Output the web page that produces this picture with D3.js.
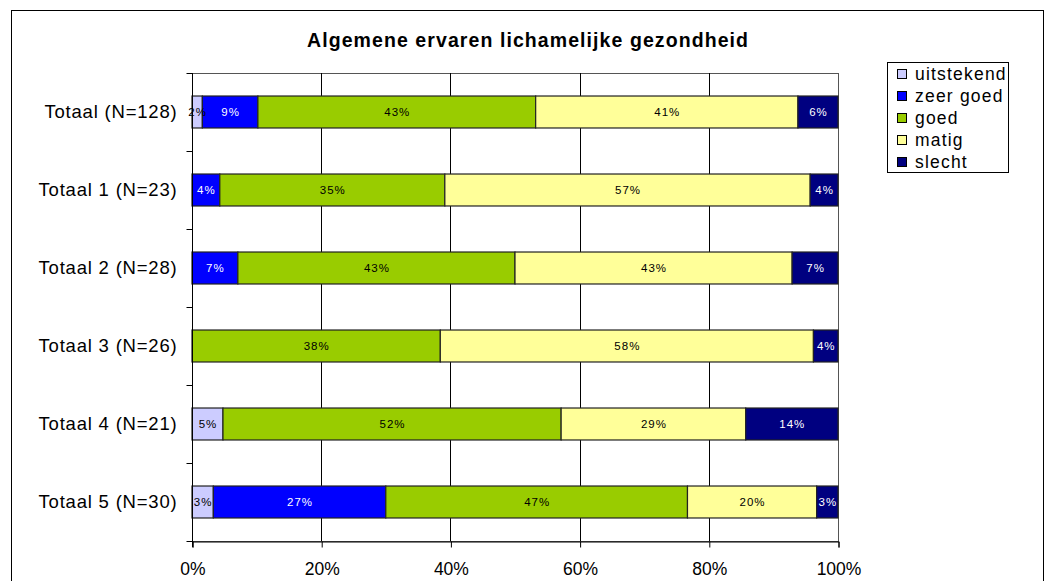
<!DOCTYPE html>
<html>
<head>
<meta charset="utf-8">
<script src="https://cdn.jsdelivr.net/npm/d3@7"></script>
<style>
  body { margin: 0; background: #fff; }
  svg { display: block; font-family: "Liberation Sans", Arial, sans-serif; }
</style>
</head>
<body>
<div class="chart"></div>
<script>
const title = "Algemene ervaren lichamelijke gezondheid";
const categories = ["Totaal (N=128)", "Totaal 1 (N=23)", "Totaal 2 (N=28)", "Totaal 3 (N=26)", "Totaal 4 (N=21)", "Totaal 5 (N=30)"];
const seriesNames = ["uitstekend", "zeer goed", "goed", "matig", "slecht"];
const seriesColors = ["#CCCCFF", "#0000FF", "#99CC00", "#FFFF99", "#000080"];
const labelColors = ["#000", "#fff", "#000", "#000", "#fff"];
// percentages per category, in the order of seriesNames
const uitstekend = [1.6, 0, 0, 0, 4.8, 3.3];
const zeerGoed = [8.6, 4.3, 7.1, 0, 0, 26.7];
const goed = [43.0, 34.8, 42.9, 38.4, 52.4, 46.7];
const matig = [40.6, 56.5, 42.9, 57.7, 28.6, 20.0];
const slecht = [6.2, 4.3, 7.1, 3.8, 14.3, 3.3];
const xTicks = [0, 20, 40, 60, 80, 100];

const width = 1053, height = 581;
const plot = { left: 192, right: 838, top: 73, bottom: 541 };

const rows = categories.map((c, i) => {
    const vals = [uitstekend[i], zeerGoed[i], goed[i], matig[i], slecht[i]];
    const total = d3.sum(vals);
    let acc = 0;
    return {
        cat: c,
        segs: vals.map((v, j) => {
            const s = { key: j, x0: acc / total * 100, x1: (acc + v) / total * 100, v: v };
            acc += v;
            return s;
        })
    };
});

const xScale = d3.scaleLinear().domain([0, 100]).range([plot.left, plot.right]);
const yScale = d3.scaleBand().domain(categories).range([plot.top, plot.bottom]).paddingInner(0.59).paddingOuter(0.295);
const bandAll = d3.scaleBand().domain(categories).range([plot.top, plot.bottom]);

const svg = d3.select("div.chart").append("svg")
    .attr("width", width).attr("height", height);

// outer chart frame
svg.append("rect")
    .attr("x", 11.5).attr("y", 10.5).attr("width", 1032).attr("height", 580)
    .attr("fill", "#fff").attr("stroke", "#000").attr("stroke-width", 1);

svg.append("text")
    .attr("x", 307).attr("y", 47)
    .attr("font-size", 19.5).attr("font-weight", "bold")
    .attr("textLength", 441).attr("lengthAdjust", "spacing")
    .text(title);

// plot area border
svg.append("rect")
    .attr("x", plot.left + 0.5).attr("y", plot.top + 0.5)
    .attr("width", plot.right - plot.left).attr("height", plot.bottom - plot.top)
    .attr("fill", "none").attr("stroke", "#555").attr("stroke-width", 1);

// gridlines
svg.append("g")
    .selectAll("line")
    .data(xTicks.slice(1, -1))
    .join("line")
    .attr("x1", d => Math.round(xScale(d)) + 0.5).attr("x2", d => Math.round(xScale(d)) + 0.5)
    .attr("y1", plot.top).attr("y2", plot.bottom)
    .attr("stroke", "#000");

// bars
const rowG = svg.append("g").selectAll("g")
    .data(rows)
    .join("g")
    .attr("transform", d => `translate(0,${yScale(d.cat)})`);

rowG.selectAll("rect")
    .data(d => d.segs.filter(s => s.v > 0))
    .join("rect")
    .attr("x", s => xScale(s.x0))
    .attr("width", s => xScale(s.x1) - xScale(s.x0))
    .attr("y", 0)
    .attr("height", yScale.bandwidth())
    .attr("fill", s => seriesColors[s.key])
    .attr("stroke", "#222").attr("stroke-width", 1.2);

rowG.selectAll("text")
    .data(d => d.segs.filter(s => s.v > 0))
    .join("text")
    .attr("x", s => (xScale(s.x0) + xScale(s.x1)) / 2 + 0.5)
    .attr("y", yScale.bandwidth() / 2 + 4)
    .attr("text-anchor", "middle")
    .attr("font-size", 11.5)
    .attr("letter-spacing", 1)
    .attr("fill", s => labelColors[s.key])
    .text(s => Math.round(s.v) + "%");

// y axis
const yAxisG = svg.append("g").attr("transform", `translate(${plot.left + 0.5},0)`);
yAxisG.append("line").attr("y1", plot.top).attr("y2", plot.bottom + 6).attr("stroke", "#000");
yAxisG.selectAll("line.tick")
    .data(categories.map(c => bandAll(c)).concat([plot.bottom]))
    .join("line").attr("class", "tick")
    .attr("x1", -6).attr("x2", 0)
    .attr("y1", d => Math.round(d) + 0.5).attr("y2", d => Math.round(d) + 0.5)
    .attr("stroke", "#000");
yAxisG.selectAll("text")
    .data(categories)
    .join("text")
    .attr("x", -15)
    .attr("y", c => yScale(c) + yScale.bandwidth() / 2 + 6)
    .attr("text-anchor", "end")
    .attr("font-size", 18.5)
    .attr("letter-spacing", 0.8)
    .text(c => c);

// x axis
const xAxis = d3.axisBottom(xScale).tickValues(xTicks).tickSize(6).tickFormat(d => d + "%");
const xAxisG = svg.append("g")
    .attr("transform", `translate(0.5,${plot.bottom + 0.5})`)
    .call(xAxis);
xAxisG.select(".domain").attr("stroke", "#000");
xAxisG.selectAll(".tick line").attr("stroke", "#000");
xAxisG.selectAll(".tick text")
    .attr("font-size", 17.5).attr("font-family", "Liberation Sans, Arial, sans-serif")
    .attr("fill", "#000").attr("dy", "1.4em");

// legend
const legend = svg.append("g");
legend.append("rect")
    .attr("x", 887.5).attr("y", 62.5).attr("width", 121).attr("height", 110)
    .attr("fill", "#fff").attr("stroke", "#000");
const item = legend.selectAll("g.item")
    .data(seriesNames)
    .join("g").attr("class", "item")
    .attr("transform", (d, i) => `translate(897,${69 + i * 22})`);
item.append("rect")
    .attr("x", 0.5).attr("y", 0.5).attr("width", 9).attr("height", 9)
    .attr("fill", (d, i) => seriesColors[i]).attr("stroke", "#000");
item.append("text")
    .attr("x", 18).attr("y", 11)
    .attr("font-size", 17.5)
    .attr("letter-spacing", 1.2)
    .text(d => d);
</script>
</body>
</html>
